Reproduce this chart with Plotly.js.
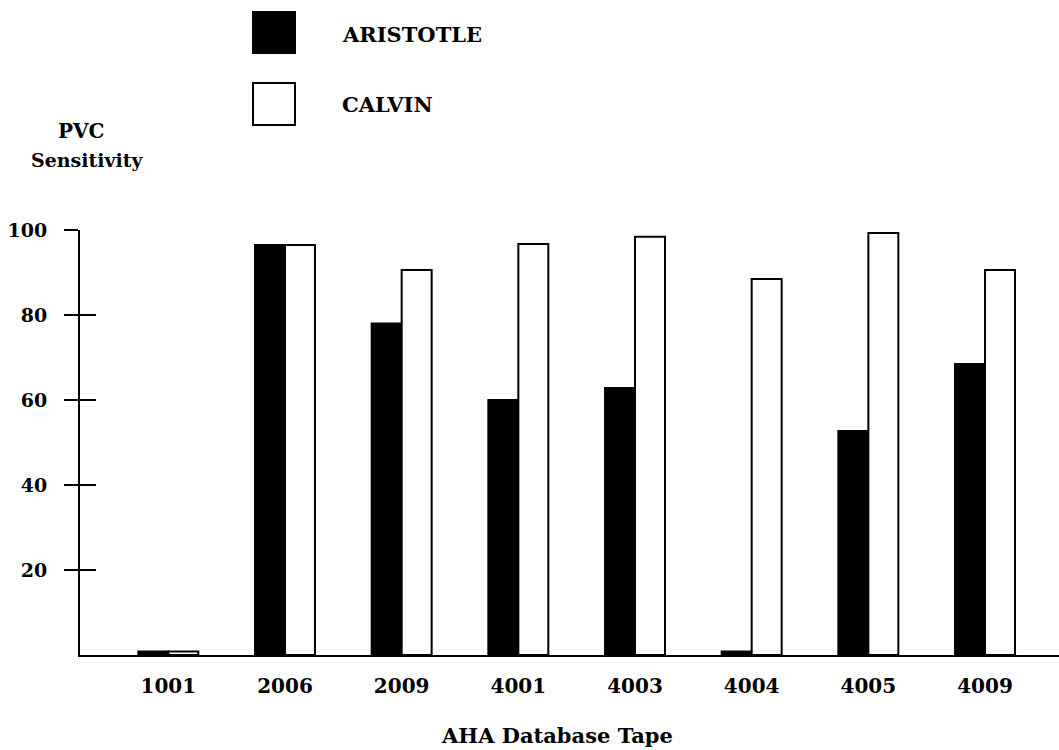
<!DOCTYPE html>
<html>
<head>
<meta charset="utf-8">
<script src="https://cdn.plot.ly/plotly-3.0.1.min.js"></script>
<style>html,body{margin:0;padding:0;background:#fff;}#chart{width:1059px;height:750px;}</style>
</head>
<body>
<div id="chart"></div>
<script>
const categories = ['1001','2006','2009','4001','4003','4004','4005','4009'];
const aristotle = [0.8, 96.5, 78, 60, 62.8, 0.8, 52.7, 68.5];
const calvin = [0.8, 96.5, 90.6, 96.7, 98.4, 88.5, 99.3, 90.6];
const yTicks = [20, 40, 60, 80, 100];
const seriesNames = ['ARISTOTLE', 'CALVIN'];

const FONT = 'DejaVu Serif, Liberation Serif, serif';
const W = 1059, H = 750, L = 80, R = 0, T = 230, B = 95;
const pw = W - L - R, ph = H - T - B;
const px = v => (v - L) / pw;
const py = v => (H - B - v) / ph;

const traces = [
  {type: 'bar', name: seriesNames[0], x: categories, y: aristotle,
   marker: {color: '#000', line: {color: '#000', width: 2}}, showlegend: false},
  {type: 'bar', name: seriesNames[1], x: categories, y: calvin,
   marker: {color: '#fff', line: {color: '#000', width: 2}}, showlegend: false},
  {type: 'scatter', x: [], y: [], yaxis: 'y2', showlegend: false, hoverinfo: 'skip'}
];

const layout = {
  width: W, height: H,
  margin: {l: L, r: R, t: T, b: B, pad: 0},
  paper_bgcolor: '#fff', plot_bgcolor: '#fff',
  barmode: 'group', bargap: 0.486, bargroupgap: 0,
  font: {family: FONT, color: '#000'},
  xaxis: {
    type: 'category', range: [-0.757, 7.634],
    showgrid: false, zeroline: false, showline: true, linecolor: '#000', linewidth: 2,
    ticks: '', ticklabelstandoff: 12,
    tickfont: {family: FONT, size: 20, weight: 700, color: '#000'},
    fixedrange: true
  },
  yaxis: {
    range: [0, 100], tickvals: yTicks, ticktext: yTicks.map(String),
    showgrid: false, zeroline: false, showline: true, linecolor: '#000', linewidth: 2,
    ticks: 'outside', ticklen: 14, tickwidth: 2, tickcolor: '#000',
    ticklabelstandoff: 13,
    tickfont: {family: FONT, size: 19, weight: 700, color: '#000'},
    fixedrange: true
  },
  yaxis2: {
    overlaying: 'y', side: 'left', range: [0, 100], tickvals: yTicks,
    showticklabels: false, showgrid: false, zeroline: false, showline: false,
    ticks: 'inside', ticklen: 16, tickwidth: 2, tickcolor: '#000', fixedrange: true
  },
  shapes: [
    {type: 'rect', xref: 'paper', yref: 'paper', x0: px(253), x1: px(295), y0: py(53), y1: py(12),
     fillcolor: '#000', line: {color: '#000', width: 2}},
    {type: 'rect', xref: 'paper', yref: 'paper', x0: px(253), x1: px(295), y0: py(125), y1: py(83),
     fillcolor: '#fff', line: {color: '#000', width: 2}}
  ],
  annotations: [
    {xref: 'paper', yref: 'paper', x: px(340), y: py(34), xanchor: 'left', yanchor: 'middle',
     text: seriesNames[0], showarrow: false, font: {family: FONT, size: 21, weight: 700, color: '#000'}},
    {xref: 'paper', yref: 'paper', x: px(340), y: py(105), xanchor: 'left', yanchor: 'middle',
     text: seriesNames[1], showarrow: false, font: {family: FONT, size: 21, weight: 700, color: '#000'}},
    {xref: 'paper', yref: 'paper', x: px(81), y: py(131), xanchor: 'center', yanchor: 'middle',
     text: 'PVC', showarrow: false, font: {family: FONT, size: 20, weight: 700, color: '#000'}},
    {xref: 'paper', yref: 'paper', x: px(87), y: py(160), xanchor: 'center', yanchor: 'middle',
     text: 'Sensitivity', showarrow: false, font: {family: FONT, size: 19, weight: 700, color: '#000'}},
    {xref: 'paper', yref: 'paper', x: px(557), y: py(735), xanchor: 'center', yanchor: 'middle',
     text: 'AHA Database Tape', showarrow: false, font: {family: FONT, size: 21, weight: 700, color: '#000'}}
  ]
};

Plotly.newPlot('chart', traces, layout, {displayModeBar: false, staticPlot: true});
</script>
</body>
</html>
